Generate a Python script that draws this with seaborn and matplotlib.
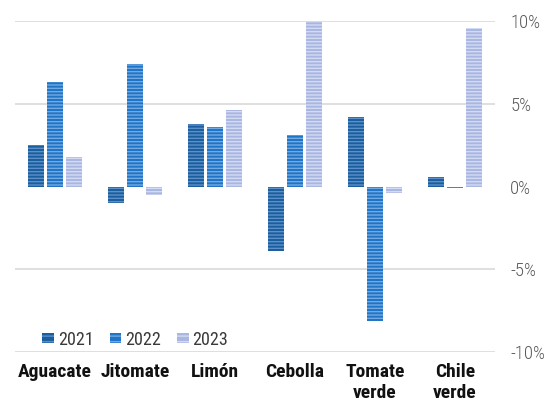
import matplotlib
matplotlib.use("Agg")
import matplotlib.pyplot as plt
import seaborn as sns
import pandas as pd
from matplotlib.patches import Patch

categories = ["Aguacate", "Jitomate", "Limón", "Cebolla", "Tomate\nverde", "Chile\nverde"]
years = ["2021", "2022", "2023"]
v2021 = [2.5, -1.0, 3.8, -3.9, 4.2, 0.6]
v2022 = [6.3, 7.4, 3.6, 3.1, -8.1, -0.1]
v2023 = [1.8, -0.5, 4.6, 10.0, -0.4, 9.6]
yticks = [-10, -5, 0, 5, 10]
ytick_labels = ["-10%", "-5%", "0%", "5%", "10%"]

rows = []
for yr, vals in zip(years, [v2021, v2022, v2023]):
    for c, v in zip(categories, vals):
        rows.append({"cat": c, "year": yr, "val": v})
df = pd.DataFrame(rows)

face = {"2021": "#1b5e9e", "2022": "#1f74c6", "2023": "#a9b6e2"}
stripe = {"2021": "#5d90c8", "2022": "#73a9e2", "2023": "#d3dbf2"}

sns.set_style("white")
plt.rcParams['font.family'] = ['Roboto Condensed', 'DejaVu Sans']
plt.rcParams['hatch.linewidth'] = 1.0

fig = plt.figure(figsize=(5.48, 4.07), dpi=100)
ax = fig.add_axes([15/548, (407-352)/407, 480/548, (352-21)/407])

sns.barplot(data=df, x="cat", y="val", hue="year", order=categories, hue_order=years,
            palette=face, width=0.7, gap=0.15, ax=ax, legend=False, saturation=1)

for cont, yr in zip(ax.containers, years):
    for p in cont:
        p.set_facecolor(face[yr])
        p.set_edgecolor(stripe[yr])
        p.set_hatch("-----")
        p.set_linewidth(0)

ax.set_ylim(-10, 10)
ax.set_xlim(-0.5, 5.5)
ax.set_yticks(yticks)
ax.set_yticklabels(ytick_labels)
ax.yaxis.tick_right()
ax.tick_params(axis='y', length=0, pad=11, labelsize=13.5, labelcolor="#595959")
ax.tick_params(axis='x', length=0, pad=8, labelsize=14)
for t in ax.get_yticklabels():
    t.set_fontweight(300)
for t in ax.get_xticklabels():
    t.set_fontweight("bold")
    t.set_color("#111111")
    t.set_verticalalignment("top")
ax.set_xlabel("")
ax.set_ylabel("")
for s in ax.spines.values():
    s.set_visible(False)
for y in [-10, -5, 5, 10]:
    ax.axhline(y, color="#d9d9d9", lw=1.2, zorder=0)

handles = [Patch(facecolor=face[y], edgecolor=stripe[y], hatch="---", linewidth=0, label=y) for y in years]
leg = ax.legend(handles=handles, loc="lower left", bbox_to_anchor=(0.042, -0.012), ncol=3,
                frameon=False, fontsize=13, handlelength=0.65, handleheight=0.5,
                handletextpad=0.2, columnspacing=0.9, borderaxespad=0.0)
for t in leg.get_texts():
    t.set_color("#3a3a3a")

fig.savefig("out.png", dpi=100)
